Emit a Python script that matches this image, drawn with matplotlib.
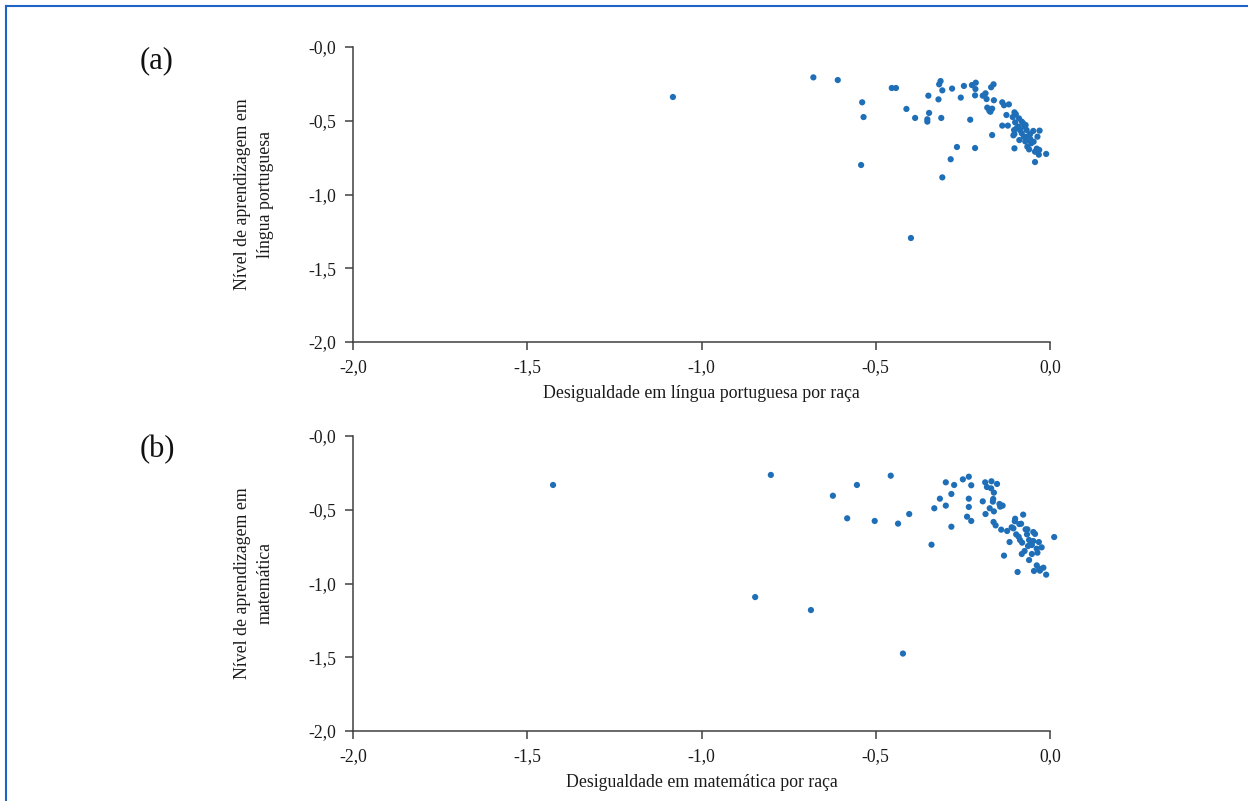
import matplotlib
matplotlib.use("Agg")
import matplotlib.pyplot as plt
from matplotlib.lines import Line2D

# Panel (a): Língua portuguesa
a_x = [-1.082, -0.679, -0.609, -0.539, -0.535, -0.542, -0.454, -0.442, -0.412, -0.399,
       -0.387, -0.349, -0.347, -0.352, -0.352, -0.320, -0.318, -0.314, -0.309, -0.312,
       -0.281, -0.309, -0.285, -0.267, -0.256, -0.247, -0.229, -0.224, -0.213, -0.214,
       -0.215, -0.215, -0.193, -0.185, -0.182, -0.169, -0.162, -0.161, -0.180, -0.174,
       -0.166, -0.171, -0.166, -0.137, -0.132, -0.118, -0.125, -0.137, -0.121, -0.102,
       -0.098, -0.107, -0.100, -0.089, -0.103, -0.102, -0.105, -0.088, -0.102, -0.048,
       -0.030, -0.036, -0.047, -0.054, -0.065, -0.060, -0.038, -0.031, -0.032, -0.043,
       -0.011, -0.043, -0.067, -0.057, -0.071, -0.062, -0.091, -0.081, -0.077, -0.074,
       -0.070, -0.081, -0.075, -0.086, -0.096, -0.067, -0.057]
a_y = [-0.339, -0.206, -0.224, -0.375, -0.475, -0.800, -0.278, -0.278, -0.420, -1.295,
       -0.481, -0.330, -0.447, -0.490, -0.506, -0.355, -0.253, -0.231, -0.294, -0.481,
       -0.282, -0.884, -0.761, -0.678, -0.343, -0.264, -0.493, -0.258, -0.242, -0.285,
       -0.328, -0.685, -0.330, -0.314, -0.353, -0.273, -0.253, -0.361, -0.411, -0.432,
       -0.418, -0.439, -0.597, -0.375, -0.395, -0.389, -0.461, -0.533, -0.533, -0.443,
       -0.456, -0.475, -0.511, -0.484, -0.563, -0.590, -0.599, -0.631, -0.687, -0.569,
       -0.567, -0.608, -0.642, -0.653, -0.676, -0.694, -0.689, -0.698, -0.730, -0.710,
       -0.725, -0.780, -0.608, -0.622, -0.640, -0.631, -0.540, -0.506, -0.518, -0.540,
       -0.529, -0.585, -0.608, -0.563, -0.551, -0.563, -0.590]

# Panel (b): Matemática
b_x = [-1.426, -0.801, -0.846, -0.686, -0.422, -0.623, -0.554, -0.457, -0.582, -0.503,
       -0.436, -0.404, -0.340, -0.332, -0.316, -0.299, -0.299, -0.283, -0.283, -0.275,
       -0.250, -0.233, -0.226, -0.233, -0.233, -0.238, -0.226, -0.193, -0.186, -0.181,
       -0.168, -0.169, -0.152, -0.161, -0.163, -0.164, -0.173, -0.161, -0.185, -0.145,
       -0.136, -0.143, -0.162, -0.156, -0.140, -0.123, -0.132, -0.116, -0.093, -0.077,
       -0.100, -0.101, -0.088, -0.083, -0.110, -0.105, -0.097, -0.090, -0.086, -0.080,
       -0.070, -0.065, -0.066, -0.048, -0.043, -0.060, -0.054, -0.048, -0.032, -0.063,
       -0.052, -0.038, -0.024, -0.073, -0.081, -0.052, -0.036, -0.060, 0.012, -0.038,
       -0.031, -0.019, -0.046, -0.029, -0.011]
b_y = [-0.332, -0.264, -1.092, -1.180, -1.475, -0.405, -0.332, -0.269, -0.558, -0.576,
       -0.594, -0.529, -0.737, -0.490, -0.425, -0.314, -0.472, -0.393, -0.615, -0.332,
       -0.294, -0.276, -0.334, -0.425, -0.481, -0.547, -0.576, -0.443, -0.314, -0.346,
       -0.307, -0.355, -0.325, -0.384, -0.427, -0.445, -0.490, -0.511, -0.529, -0.461,
       -0.472, -0.479, -0.583, -0.606, -0.635, -0.644, -0.811, -0.719, -0.922, -0.533,
       -0.561, -0.578, -0.597, -0.595, -0.619, -0.626, -0.667, -0.683, -0.705, -0.723,
       -0.633, -0.633, -0.667, -0.651, -0.664, -0.705, -0.727, -0.712, -0.719, -0.746,
       -0.739, -0.764, -0.755, -0.780, -0.800, -0.800, -0.791, -0.841, -0.685, -0.877,
       -0.900, -0.893, -0.915, -0.913, -0.940]

x_ticks = [-2.0, -1.5, -1.0, -0.5, 0.0]
x_tick_labels = ["-2,0", "-1,5", "-1,0", "-0,5", "0,0"]
y_ticks = [0.0, -0.5, -1.0, -1.5, -2.0]
y_tick_labels = ["-0,0", "-0,5", "-1,0", "-1,5", "-2,0"]

panels = [
    ("(a)", a_x, a_y, "Desigualdade em língua portuguesa por raça",
     "Nível de aprendizagem em\nlíngua portuguesa"),
    ("(b)", b_x, b_y, "Desigualdade em matemática por raça",
     "Nível de aprendizagem em\nmatemática"),
]

plt.rcParams['font.family'] = ['Liberation Serif', 'DejaVu Serif']
color = '#1f6fb8'
axis_color = '#404040'
text_color = '#1a1a1a'

fig = plt.figure(figsize=(12.48, 8.01), dpi=100)
left = 353 / 1248
width = (1050 - 353) / 1248
height = (342 - 47) / 801
tops = [47, 436]

for (tag, xs, ys, xlabel, ylabel), top in zip(panels, tops):
    bottom = 1 - (top / 801) - height
    ax = fig.add_axes([left, bottom, width, height])
    ax.scatter(xs, ys, s=20, color=color, edgecolors='none', zorder=3, clip_on=False)
    ax.set_xlim(-2.0, 0.0)
    ax.set_ylim(-2.0, 0.0)
    ax.set_xticks(x_ticks)
    ax.set_xticklabels(x_tick_labels)
    ax.set_yticks(y_ticks)
    ax.set_yticklabels(y_tick_labels)
    for s in ['top', 'right']:
        ax.spines[s].set_visible(False)
    for s in ['left', 'bottom']:
        ax.spines[s].set_color(axis_color)
        ax.spines[s].set_linewidth(1.1)
    ax.tick_params(axis='both', direction='out', length=6, width=1.1, color=axis_color,
                   labelsize=12.7, labelcolor=text_color, pad=6)
    ax.set_xlabel(xlabel, fontsize=12.8, color=text_color, labelpad=7)
    ax.set_ylabel(ylabel, fontsize=12.8, color=text_color, labelpad=25, linespacing=1.4)
    fig.text(140 / 1248, 1 - (top + 14) / 801, tag, fontsize=22, color='#111111',
             ha='left', va='center')

# blue frame (top and left edges)
fig.add_artist(Line2D([6 / 1248, 1.0], [1 - 6 / 801, 1 - 6 / 801],
                      transform=fig.transFigure, color='#1f63c6', linewidth=1.5))
fig.add_artist(Line2D([6 / 1248, 6 / 1248], [0.0, 1 - 6 / 801],
                      transform=fig.transFigure, color='#1f63c6', linewidth=1.5))

fig.savefig("out.png", dpi=100)
